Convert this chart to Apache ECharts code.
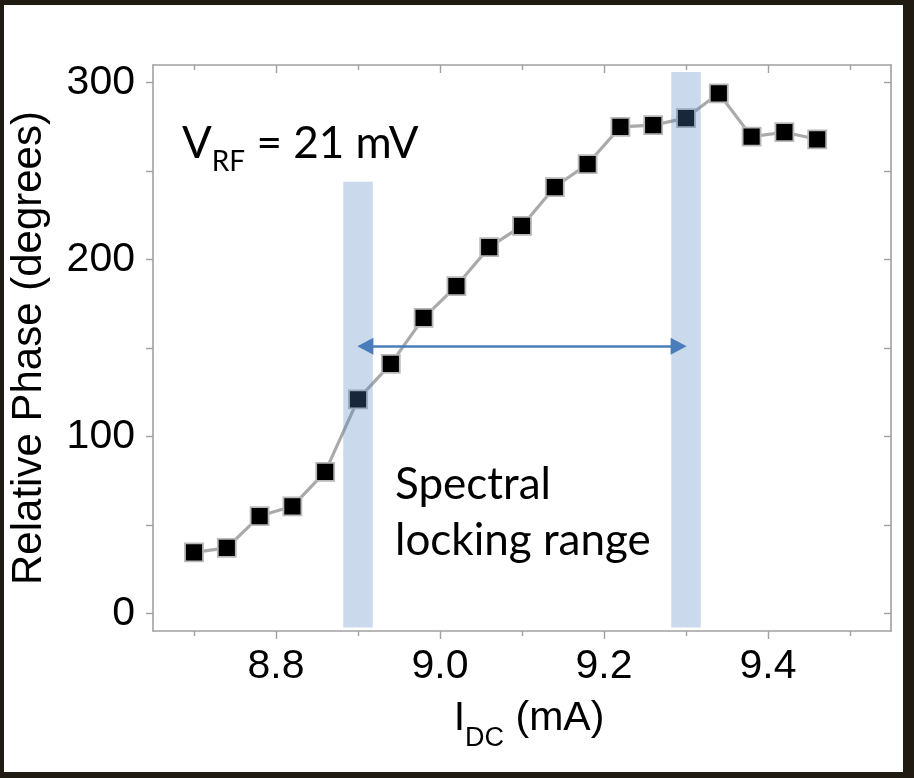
<!DOCTYPE html>
<html>
<head>
<meta charset="utf-8">
<script src="https://cdn.jsdelivr.net/npm/echarts@6/dist/echarts.min.js"></script>
<style>
html,body{margin:0;padding:0;background:#1f1b12;}
#chart{width:914px;height:778px;}
</style>
</head>
<body>
<div id="chart"></div>
<script>
// ---- data ----
const currents = [8.70, 8.74, 8.78, 8.82, 8.86, 8.90, 8.94, 8.98, 9.02, 9.06, 9.10, 9.14, 9.18, 9.22, 9.26, 9.30, 9.34, 9.38, 9.42, 9.46];
const phases   = [34.5, 37, 55, 60.5, 80, 121, 141, 167, 185, 207, 219, 241, 254, 275, 276, 280, 294, 269.5, 272, 268];
const xLabelValues = [8.8, 9.0, 9.2, 9.4];
const xMinorTickValues = [8.7, 8.9, 9.1, 9.3, 9.5];
const yLabelValues = [0, 100, 200, 300];
const yTickValues = [0, 50, 100, 150, 200, 250, 300];
// locking-range bands: [xStart, xEnd, yBottom, yTop]
const bandLeft  = [8.882, 8.918, -8, 244];
const bandRight = [9.282, 9.318, -8, 306];
// double arrow (centres of arrow heads)
const arrowStart = [8.909, 151];
const arrowEnd   = [9.291, 151];

const AX = '#a0a0a0';
const chart = echarts.init(document.getElementById('chart'));

function xAx(pos, ticks, len, inside, showLine, showLabel) {
  return {
    type: 'value', position: pos, min: 8.65, max: 9.55,
    splitLine: {show: false},
    axisLine: {show: showLine, onZero: false, lineStyle: {color: AX, width: 1.6}},
    axisTick: {show: true, inside: inside, length: len, customValues: ticks, lineStyle: {color: AX, width: 1.4}},
    axisLabel: showLabel ? {show: true, customValues: xLabelValues, margin: 15,
      fontFamily: 'Liberation Sans', fontSize: 41, color: '#000',
      formatter: v => v.toFixed(1)} : {show: false}
  };
}

const option = {
  backgroundColor: '#1f1b12',
  animation: false,
  graphic: [
    {type: 'rect', z: -10, silent: true, shape: {x: 4, y: 5, width: 899, height: 767}, style: {fill: '#ffffff'}},
    {type: 'text', z: 100, left: 182, top: 122, style: {
      text: '{a|V}{b|RF}{a| = 21 mV}',
      rich: {
        a: {fontFamily: 'Lato', fontSize: 44, lineHeight: 64, fill: '#000', verticalAlign: 'middle'},
        b: {fontFamily: 'Lato', fontSize: 28, lineHeight: 28, fill: '#000', verticalAlign: 'bottom'}
      }}},
    {type: 'text', z: 100, left: 395, top: 457, style: {
      text: 'Spectral\nlocking range', fontFamily: 'Lato', fontSize: 44, lineHeight: 56, fill: '#000'}}
  ],
  grid: {left: 153, top: 65, right: 23, bottom: 147, containLabel: false},
  xAxis: [
    Object.assign(xAx('bottom', xLabelValues, 8, false, true, true), {
      name: '{a|I}{b|DC}{a| (mA)}', nameLocation: 'middle', nameGap: 55,
      nameTextStyle: {padding: [0, 0, 0, 14], rich: {
        a: {fontFamily: 'Liberation Sans', fontSize: 41, lineHeight: 66, color: '#000', verticalAlign: 'middle'},
        b: {fontFamily: 'Liberation Sans', fontSize: 27, lineHeight: 27, color: '#000', verticalAlign: 'bottom'}
      }}
    }),
    xAx('bottom', xMinorTickValues, 5, false, false, false),
    xAx('top', xLabelValues, 8, true, true, false),
    xAx('top', xMinorTickValues, 5, true, false, false)
  ],
  yAxis: [
    {
      type: 'value', position: 'left', min: -10, max: 310,
      splitLine: {show: false},
      axisLine: {show: true, onZero: false, lineStyle: {color: AX, width: 1.6}},
      axisTick: {show: true, inside: false, length: 7, customValues: yTickValues, lineStyle: {color: AX, width: 1.4}},
      axisLabel: {show: true, customValues: yLabelValues, margin: 18, fontFamily: 'Liberation Sans', fontSize: 41, color: '#000'},
      name: 'Relative Phase (degrees)', nameLocation: 'middle', nameGap: 103, nameRotate: 90,
      nameTextStyle: {fontFamily: 'Liberation Sans', fontSize: 42, color: '#000'}
    },
    {
      type: 'value', position: 'right', min: -10, max: 310,
      splitLine: {show: false},
      axisLine: {show: true, onZero: false, lineStyle: {color: AX, width: 1.6}},
      axisTick: {show: true, inside: true, length: 7, customValues: yTickValues, lineStyle: {color: AX, width: 1.4}},
      axisLabel: {show: false}
    }
  ],
  series: [
    {
      type: 'line', xAxisIndex: 0, yAxisIndex: 0, z: 2,
      data: currents.map((c, i) => [c, phases[i]]),
      symbol: 'rect', symbolSize: 18,
      lineStyle: {color: '#aaaaaa', width: 3.2},
      itemStyle: {color: '#000', borderColor: '#b8b8b8', borderWidth: 1.8}
    },
    {
      type: 'custom', xAxisIndex: 0, yAxisIndex: 0, z: 5, silent: true,
      data: [bandLeft, bandRight],
      renderItem: function (params, api) {
        const p0 = api.coord([api.value(0), api.value(3)]);
        const p1 = api.coord([api.value(1), api.value(2)]);
        return {type: 'rect', shape: {x: p0[0], y: p0[1], width: p1[0] - p0[0], height: p1[1] - p0[1]},
          style: {fill: 'rgba(79,129,189,0.3)'}};
      },
      encode: {x: [0, 1], y: [2, 3]}
    },
    {
      type: 'line', xAxisIndex: 0, yAxisIndex: 0, z: 6, data: [], silent: true,
      markLine: {
        silent: true, z: 6,
        symbol: ['triangle', 'triangle'], symbolSize: [17, 16],
        label: {show: false},
        lineStyle: {color: '#4a7ebb', width: 2.5, type: 'solid'},
        data: [[{coord: arrowStart}, {coord: arrowEnd}]]
      }
    }
  ]
};
chart.setOption(option);
</script>
</body>
</html>
